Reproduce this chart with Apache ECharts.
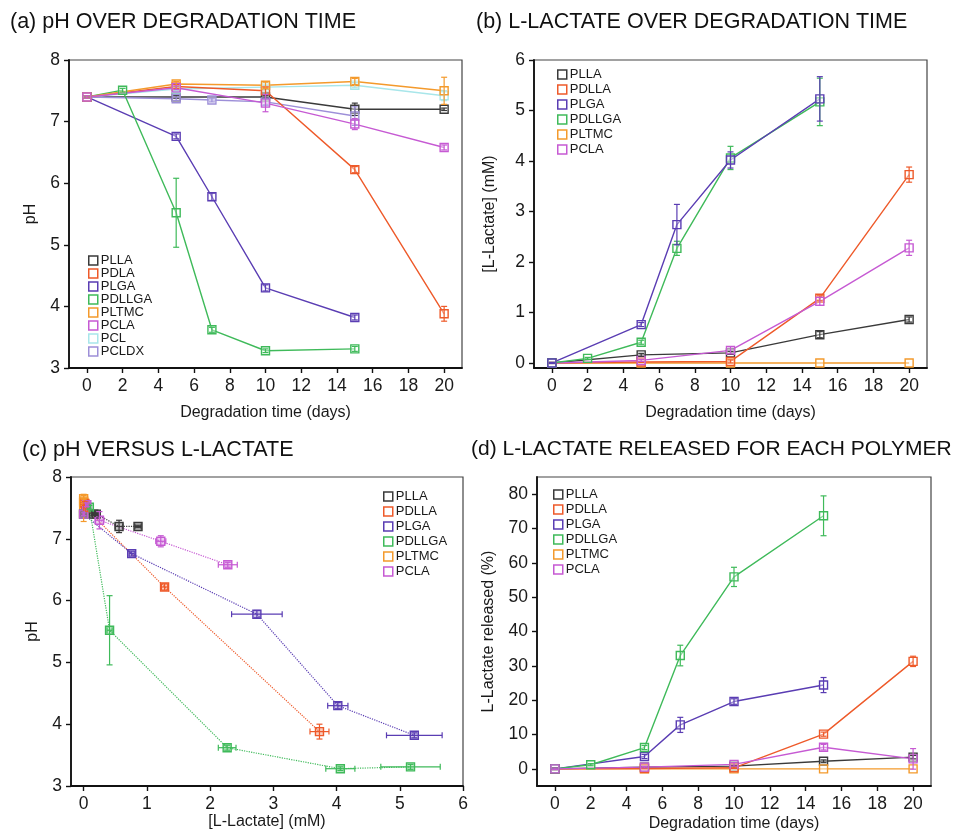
<!DOCTYPE html>
<html>
<head>
<meta charset="utf-8">
<script src="https://cdn.jsdelivr.net/npm/echarts@6/dist/echarts.min.js"></script>
<style>
html, body { margin: 0; padding: 0; background: #fff; }
#chart { width: 963px; height: 833px; }
</style>
</head>
<body>
<div id="chart"></div>
<script>
// tick labels
const dayTicks = [0, 2, 4, 6, 8, 10, 12, 14, 16, 18, 20];
const phTicks = [3, 4, 5, 6, 7, 8];
const lactateTicks = [0, 1, 2, 3, 4, 5, 6];
const releaseTicks = [0, 10, 20, 30, 40, 50, 60, 70, 80];

// (a) pH over degradation time: [day, pH, sd]
const phPLLA = [[0, 7.40, 0.02], [5, 7.40, 0.02], [10, 7.40, 0.02], [15, 7.20, 0.10], [20, 7.20, 0.02]];
const phPDLA = [[0, 7.40, 0.02], [5, 7.57, 0.03], [10, 7.50, 0.06], [15, 6.22, 0.05], [20, 3.88, 0.12]];
const phPLGA = [[0, 7.40, 0.02], [5, 6.76, 0.04], [7, 5.78, 0.06], [10, 4.30, 0.05], [15, 3.82, 0.04]];
const phPDLLGA = [[0, 7.40, 0.02], [2, 7.51, 0.03], [5, 5.52, 0.56], [7, 3.62, 0.04], [10, 3.28, 0.03], [15, 3.31, 0.04]];
const phPLTMC = [[0, 7.40, 0.02], [5, 7.61, 0.04], [10, 7.59, 0.05], [15, 7.65, 0.05], [20, 7.50, 0.22]];
const phPCLA = [[0, 7.40, 0.02], [5, 7.55, 0.03], [10, 7.30, 0.14], [15, 6.96, 0.09], [20, 6.58, 0.04]];
const phPCL = [[0, 7.40, 0.02], [5, 7.53, 0.03], [10, 7.56, 0.03], [15, 7.59, 0.04], [20, 7.42, 0.08]];
const phPCLDX = [[0, 7.40, 0.02], [5, 7.37, 0.03], [7, 7.35, 0.03], [10, 7.32, 0.05], [15, 7.09, 0.15]];

// (b) L-lactate over degradation time: [day, mM, sd]
const laPLLA = [[0, 0, 0.01], [5, 0.16, 0.03], [10, 0.20, 0.03], [15, 0.56, 0.06], [20, 0.86, 0.05]];
const laPDLLA = [[0, 0, 0.01], [5, 0.02, 0.01], [10, 0.03, 0.03], [15, 1.28, 0.05], [20, 3.73, 0.15]];
const laPLGA = [[0, 0, 0.01], [5, 0.76, 0.04], [7, 2.74, 0.40], [10, 4.02, 0.16], [15, 5.23, 0.44]];
const laPDLLGA = [[0, 0, 0.01], [2, 0.09, 0.02], [5, 0.41, 0.04], [7, 2.27, 0.14], [10, 4.06, 0.23], [15, 5.17, 0.47]];
const laPLTMC = [[0, 0, 0], [5, 0, 0], [10, 0, 0], [15, 0, 0], [20, 0, 0]];
const laPCLA = [[0, 0, 0.01], [5, 0.05, 0.02], [10, 0.25, 0.07], [15, 1.22, 0.08], [20, 2.28, 0.15]];

// (d) L-lactate released: [day, %, sd]
const relPLLA = [[0, 0, 0.2], [5, 0.5, 0.2], [10, 0.8, 0.2], [15, 2.2, 0.4], [20, 3.4, 0.5]];
const relPDLLA = [[0, 0, 0.2], [5, 0.1, 0.1], [10, 0.3, 0.2], [15, 10.1, 0.6], [20, 31.3, 1.5]];
const relPLGA = [[0, 0, 0.2], [5, 3.6, 0.6], [7, 12.8, 2.2], [10, 19.6, 0.8], [15, 24.4, 2.2]];
const relPDLLGA = [[0, 0, 0.2], [2, 1.2, 0.3], [5, 6.2, 0.6], [7, 33.0, 3.0], [10, 55.9, 2.8], [15, 73.7, 5.8]];
const relPLTMC = [[0, 0, 0], [5, 0, 0], [10, 0, 0], [15, 0, 0], [20, 0, 0]];
const relPCLA = [[0, 0, 0.2], [5, 0.5, 0.2], [10, 1.3, 0.5], [15, 6.3, 0.8], [20, 2.9, 3.0]];

const colors = {
  PLLA: '#3a3a3a', PDLLA: '#ee5a2a', PLGA: '#5a3db3', PDLLGA: '#3fba5a',
  PLTMC: '#f49a2c', PCLA: '#c65ad3', PCL: '#a8e6ea', PCLDX: '#9d8fd8'
};

const font = 'Liberation Sans';
const txt = '#1a1a1a';

function hexA(hex, a) {
  const n = parseInt(hex.slice(1), 16);
  return 'rgba(' + (n >> 16) + ',' + ((n >> 8) & 255) + ',' + (n & 255) + ',' + a + ')';
}

function lineSeries(name, color, pts, idx, dotted, fill) {
  return {
    type: 'line', name: name, xAxisIndex: idx, yAxisIndex: idx,
    data: pts.map(p => [p[0], p[1]]),
    symbol: 'rect', symbolSize: 8, showSymbol: true,
    lineStyle: { color: color, width: dotted ? 1.2 : 1.4, type: dotted ? 'dotted' : 'solid' },
    itemStyle: { color: fill || 'rgba(255,255,255,0.4)', borderColor: color, borderWidth: 1.4 },
    z: 3, animation: false
  };
}

// error bars: pts as [x, y, xerr, yerr]
function errSeries(color, pts, idx) {
  return {
    type: 'custom', xAxisIndex: idx, yAxisIndex: idx, silent: true, z: 4,
    data: pts, encode: { x: 0, y: 1 }, animation: false,
    renderItem: function (params, api) {
      const x = api.value(0), y = api.value(1), ex = api.value(2), ey = api.value(3);
      const st = { stroke: color, lineWidth: 1.2 };
      const kids = [];
      const cap = 3;
      if (ey > 0) {
        const a = api.coord([x, y + ey]), b = api.coord([x, y - ey]);
        kids.push({ type: 'line', shape: { x1: a[0], y1: a[1], x2: b[0], y2: b[1] }, style: st });
        kids.push({ type: 'line', shape: { x1: a[0] - cap, y1: a[1], x2: a[0] + cap, y2: a[1] }, style: st });
        kids.push({ type: 'line', shape: { x1: b[0] - cap, y1: b[1], x2: b[0] + cap, y2: b[1] }, style: st });
      }
      if (ex > 0) {
        const a = api.coord([x - ex, y]), b = api.coord([x + ex, y]);
        kids.push({ type: 'line', shape: { x1: a[0], y1: a[1], x2: b[0], y2: b[1] }, style: st });
        kids.push({ type: 'line', shape: { x1: a[0], y1: a[1] - cap, x2: a[0], y2: a[1] + cap }, style: st });
        kids.push({ type: 'line', shape: { x1: b[0], y1: b[1] - cap, x2: b[0], y2: b[1] + cap }, style: st });
      }
      return { type: 'group', children: kids };
    }
  };
}

const series = [];
function addTime(name, color, pts, idx) {
  series.push(lineSeries(name, color, pts, idx));
  series.push(errSeries(color, pts.map(p => [p[0], p[1], 0, p[2]]), idx));
}

// (a)
addTime('PLLA', colors.PLLA, phPLLA, 0);
addTime('PCLDX', colors.PCLDX, phPCLDX, 0);
addTime('PCL', colors.PCL, phPCL, 0);
addTime('PDLA', colors.PDLLA, phPDLA, 0);
addTime('PLGA', colors.PLGA, phPLGA, 0);
addTime('PDLLGA', colors.PDLLGA, phPDLLGA, 0);
addTime('PLTMC', colors.PLTMC, phPLTMC, 0);
addTime('PCLA', colors.PCLA, phPCLA, 0);

// (b)
addTime('PLLA', colors.PLLA, laPLLA, 1);
addTime('PLTMC', colors.PLTMC, laPLTMC, 1);
addTime('PDLLA', colors.PDLLA, laPDLLA, 1);
addTime('PCLA', colors.PCLA, laPCLA, 1);
addTime('PDLLGA', colors.PDLLGA, laPDLLGA, 1);
addTime('PLGA', colors.PLGA, laPLGA, 1);

// (c) pH versus L-lactate, joined on day
function joinDays(ph, la) {
  const out = [];
  la.forEach(l => {
    const p = ph.find(q => q[0] === l[0]);
    if (p) out.push([l[1], p[1], l[2], p[2]]);
  });
  return out;
}
[['PLTMC', phPLTMC, laPLTMC], ['PLLA', phPLLA, laPLLA], ['PDLLA', phPDLA, laPDLLA],
 ['PLGA', phPLGA, laPLGA], ['PDLLGA', phPDLLGA, laPDLLGA], ['PCLA', phPCLA, laPCLA]].forEach(r => {
  const pts = joinDays(r[1], r[2]);
  const c = colors[r[0]];
  series.push(lineSeries(r[0], c, pts, 2, true, hexA(c, 0.3)));
  series.push(errSeries(c, pts, 2));
});

// (d)
addTime('PLLA', colors.PLLA, relPLLA, 3);
addTime('PLTMC', colors.PLTMC, relPLTMC, 3);
addTime('PDLLA', colors.PDLLA, relPDLLA, 3);
addTime('PLGA', colors.PLGA, relPLGA, 3);
addTime('PDLLGA', colors.PDLLGA, relPDLLGA, 3);
addTime('PCLA', colors.PCLA, relPCLA, 3);

const grids = [
  { left: 69, top: 60, width: 393, height: 308 },
  { left: 534, top: 60, width: 393, height: 308 },
  { left: 71, top: 477, width: 392, height: 309 },
  { left: 537, top: 477, width: 394, height: 310 }
].map(g => Object.assign(g, { show: true, borderColor: '#444', borderWidth: 1.2 }));

function axis(opt) {
  return Object.assign({
    type: 'value',
    nameLocation: 'middle',
    nameTextStyle: { fontFamily: font, fontSize: 16, color: txt },
    axisLine: { show: true, onZero: false, lineStyle: { color: '#111', width: 1.8 } },
    axisTick: { show: true, length: 5, lineStyle: { color: '#111', width: 1.4 } },
    axisLabel: { fontFamily: font, fontSize: 17.5, color: txt, margin: 9 },
    splitLine: { show: false }
  }, opt);
}
function ticks(a, vals) {
  a.axisTick.customValues = vals;
  a.axisLabel = Object.assign({}, a.axisLabel, { customValues: vals });
  return a;
}

const xAxes = [
  ticks(axis({ gridIndex: 0, min: -1, max: 21, name: 'Degradation time (days)', nameGap: 37 }), dayTicks),
  ticks(axis({ gridIndex: 1, min: -1, max: 21, name: 'Degradation time (days)', nameGap: 37 }), dayTicks),
  axis({ gridIndex: 2, min: -0.2, max: 6, name: '[L-Lactate] (mM)', nameGap: 28,
    axisTick: { show: true, length: 5, customValues: lactateTicks, lineStyle: { color: '#111', width: 1.4 } },
    axisLabel: { fontFamily: font, fontSize: 17.5, color: txt, margin: 9, customValues: lactateTicks } }),
  ticks(axis({ gridIndex: 3, min: -1, max: 21, name: 'Degradation time (days)', nameGap: 30 }), dayTicks)
];
const yAxes = [
  axis({ gridIndex: 0, min: 3, max: 8, interval: 1, name: 'pH', nameGap: 30 }),
  ticks(axis({ gridIndex: 1, min: -0.1, max: 6, name: '[L-Lactate] (mM)', nameGap: 36 }), lactateTicks),
  axis({ gridIndex: 2, min: 3, max: 8, interval: 1, name: 'pH', nameGap: 30 }),
  ticks(axis({ gridIndex: 3, min: -5, max: 85, name: 'L-Lactate released (%)', nameGap: 40 }), releaseTicks)
];

function legend(names, left, top, gap) {
  return {
    orient: 'vertical', left: left, top: top, padding: 0,
    icon: 'rect', itemWidth: 9, itemHeight: 9, itemGap: gap,
    selectedMode: false,
    textStyle: { fontFamily: font, fontSize: 13, lineHeight: 13, color: txt, padding: [0, 0, 0, -2] },
    data: names.map(n => ({
      name: n,
      itemStyle: { color: '#fff', borderColor: colors[n === 'PDLA' ? 'PDLLA' : n], borderWidth: 1.5 }
    }))
  };
}
const six = ['PLLA', 'PDLLA', 'PLGA', 'PDLLGA', 'PLTMC', 'PCLA'];

function title(text, left, top, size) {
  return { type: 'text', left: left, top: top,
    style: { text: text, fontFamily: font, fontSize: size, fill: '#111' } };
}

const chart = echarts.init(document.getElementById('chart'));
chart.setOption({
  animation: false,
  backgroundColor: '#fff',
  grid: grids,
  xAxis: xAxes,
  yAxis: yAxes,
  legend: [
    legend(['PLLA', 'PDLA', 'PLGA', 'PDLLGA', 'PLTMC', 'PCLA', 'PCL', 'PCLDX'], 88, 254, 0),
    legend(six, 557, 68, 2),
    legend(six, 383, 490, 2),
    legend(six, 553, 488, 2)
  ],
  graphic: [
    title('(a) pH OVER DEGRADATION TIME', 10, 11, 21.5),
    title('(b) L-LACTATE OVER DEGRADATION TIME', 476, 11, 21.5),
    title('(c) pH VERSUS L-LACTATE', 22, 439, 21.5),
    title('(d) L-LACTATE RELEASED FOR EACH POLYMER', 471, 439, 21)
  ],
  series: series
});
</script>
</body>
</html>
